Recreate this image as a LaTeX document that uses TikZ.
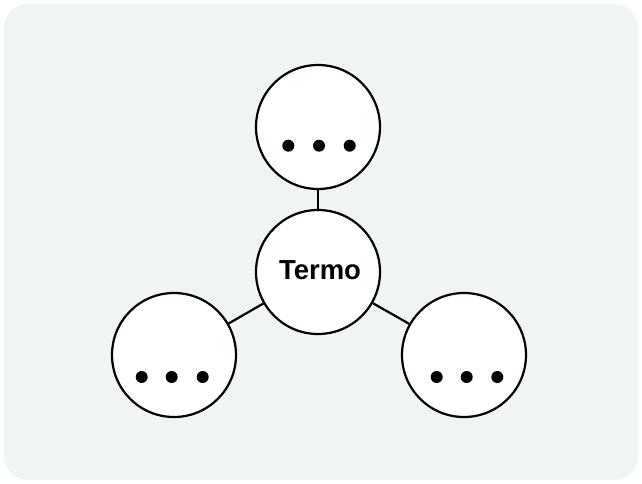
\documentclass[tikz,border=0pt]{standalone}
\usepackage{fontspec}
\setmainfont{Liberation Sans}
\usepackage{xcolor}
\definecolor{panel}{HTML}{F1F5F2}

\begin{document}
\begin{tikzpicture}[x=1pt,y=-1pt,
        term/.style = {circle, draw=black, fill=white, line width=2.2pt, minimum size=124pt, inner sep=0pt},
        link/.style = {line width=2.2pt},
        dot/.style = {circle, fill=black, minimum size=#1, inner sep=0pt, outer sep=0pt},
        dot/.default = 12pt,
    ]
    \useasboundingbox (0,0) rectangle (642,484);
    % fundo
    \fill[panel, rounded corners=24pt] (4,4) rectangle (638,480);
    % termos
    \node[term] (termo) at (318,272) {};
    \node[font=\fontsize{27.5}{32}\selectfont\bfseries] (rotulo) at (320,270) {Termo};
    \node[term] (cima) at (318,127) {};
    \node[term] (esq) at (174,355) {};
    \node[term] (dir) at (464,355) {};
    % ligacoes
    \draw[link] (termo) -- (cima);
    \draw[link] (termo) -- (esq);
    \draw[link] (termo) -- (dir);
    % reticencias
    \node[dot] (c1) at (288.3,145.7) {};
    \node[dot] (c2) at (319,145.7) {};
    \node[dot] (c3) at (349.7,145.7) {};
    \node[dot] (e1) at (141.7,377) {};
    \node[dot] (e2) at (171.7,377) {};
    \node[dot] (e3) at (202.7,377) {};
    \node[dot] (d1) at (436.7,377) {};
    \node[dot] (d2) at (466.7,377) {};
    \node[dot] (d3) at (497.3,377) {};
\end{tikzpicture}
\end{document}
